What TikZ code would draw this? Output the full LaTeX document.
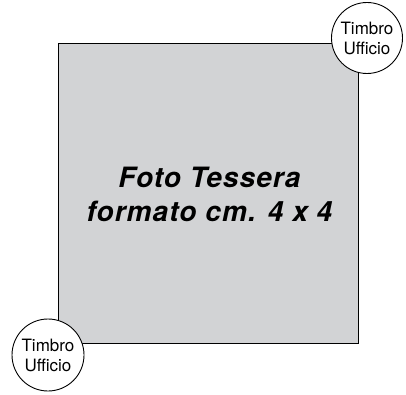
\documentclass[tikz,border=0pt]{standalone}
\usepackage{fontspec}
\setmainfont{TeX Gyre Heros}
\usepackage{xcolor}
\definecolor{fotogray}{RGB}{210,211,213}
\usetikzlibrary{positioning}

\begin{document}
\begin{tikzpicture}[x=1pt,y=1pt,
  FotoStyle/.style={draw,line width=0.9pt,fill=fotogray,minimum size=300pt,inner sep=0pt},
  TimbroStyle/.style={draw,line width=0.9pt,fill=white,circle,minimum size=71pt,inner sep=0pt,
    align=center,font=\fontsize{17}{20}\selectfont},
  TextStyle/.style={align=center,font=\fontsize{28}{34}\selectfont\bfseries\itshape\addfontfeature{LetterSpace=4}}]
\useasboundingbox (0,0) rectangle (406,394);
\node[FotoStyle] (foto) at (208,201) {};
\node[TextStyle] (testo) at (209.5,200) {Foto Tessera\\formato cm. 4 x 4};
\node[TimbroStyle] (timbroA) at (367,356) {Timbro\\Ufficio};
\node[TimbroStyle,minimum size=72pt] (timbroB) at (48,39) {Timbro\\Ufficio};
\end{tikzpicture}
\end{document}
